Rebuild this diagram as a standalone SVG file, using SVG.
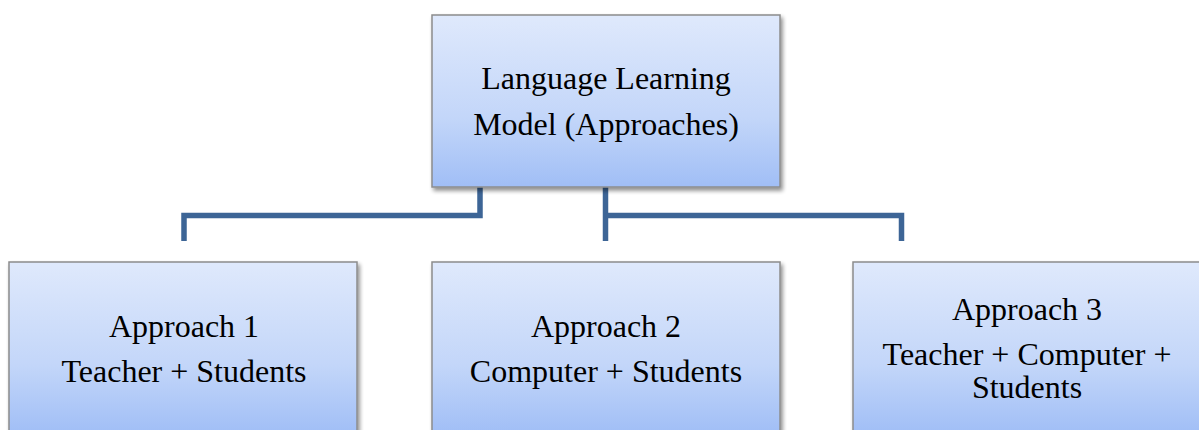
<svg xmlns="http://www.w3.org/2000/svg" width="1199" height="430" viewBox="0 0 1199 430">
<defs>
<linearGradient id="g" x1="0" y1="0" x2="0" y2="1">
<stop offset="0" stop-color="#dfe9fc"/>
<stop offset="0.6" stop-color="#c3d6f9"/>
<stop offset="1" stop-color="#a0bef6"/>
</linearGradient>
<filter id="sh" x="-5%" y="-5%" width="112%" height="115%">
<feGaussianBlur in="SourceAlpha" stdDeviation="2"/>
<feOffset dx="2" dy="3" result="b"/>
<feComponentTransfer><feFuncA type="linear" slope="0.45"/></feComponentTransfer>
<feMerge><feMergeNode/><feMergeNode in="SourceGraphic"/></feMerge>
</filter>
</defs>
<style>
.box{fill:url(#g);stroke:#8c8c8c;stroke-width:1.5;filter:url(#sh)}
.t{font-family:"Liberation Serif","Times New Roman",serif;font-size:32px;fill:#000;text-anchor:middle}
.c{fill:none;stroke:#3d6596;stroke-width:5.5;stroke-linejoin:miter}
</style>
<rect width="1199" height="430" fill="#fff"/>
<g id="connectors">
<path class="c" d="M480,187 V215.5 H184 V241"/>
<path class="c" d="M605.5,187 V241"/>
<path class="c" d="M605.5,215.5 H901.5 V241"/>
</g>
<g id="root">
<rect class="box" x="432" y="15" width="348" height="172"/>
<text class="t" x="606" y="89">Language Learning</text>
<text class="t" x="606" y="135">Model (Approaches)</text>
</g>
<g id="approach1">
<rect class="box" x="9" y="262" width="348" height="172"/>
<text class="t" x="184" y="337">Approach 1</text>
<text class="t" x="184" y="382">Teacher + Students</text>
</g>
<g id="approach2">
<rect class="box" x="432" y="262" width="348" height="172"/>
<text class="t" x="606" y="337">Approach 2</text>
<text class="t" x="606" y="382">Computer + Students</text>
</g>
<g id="approach3">
<rect class="box" x="853" y="262" width="348" height="172"/>
<text class="t" x="1027" y="320">Approach 3</text>
<text class="t" x="1027" y="365">Teacher + Computer +</text>
<text class="t" x="1027" y="398">Students</text>
</g>
</svg>
